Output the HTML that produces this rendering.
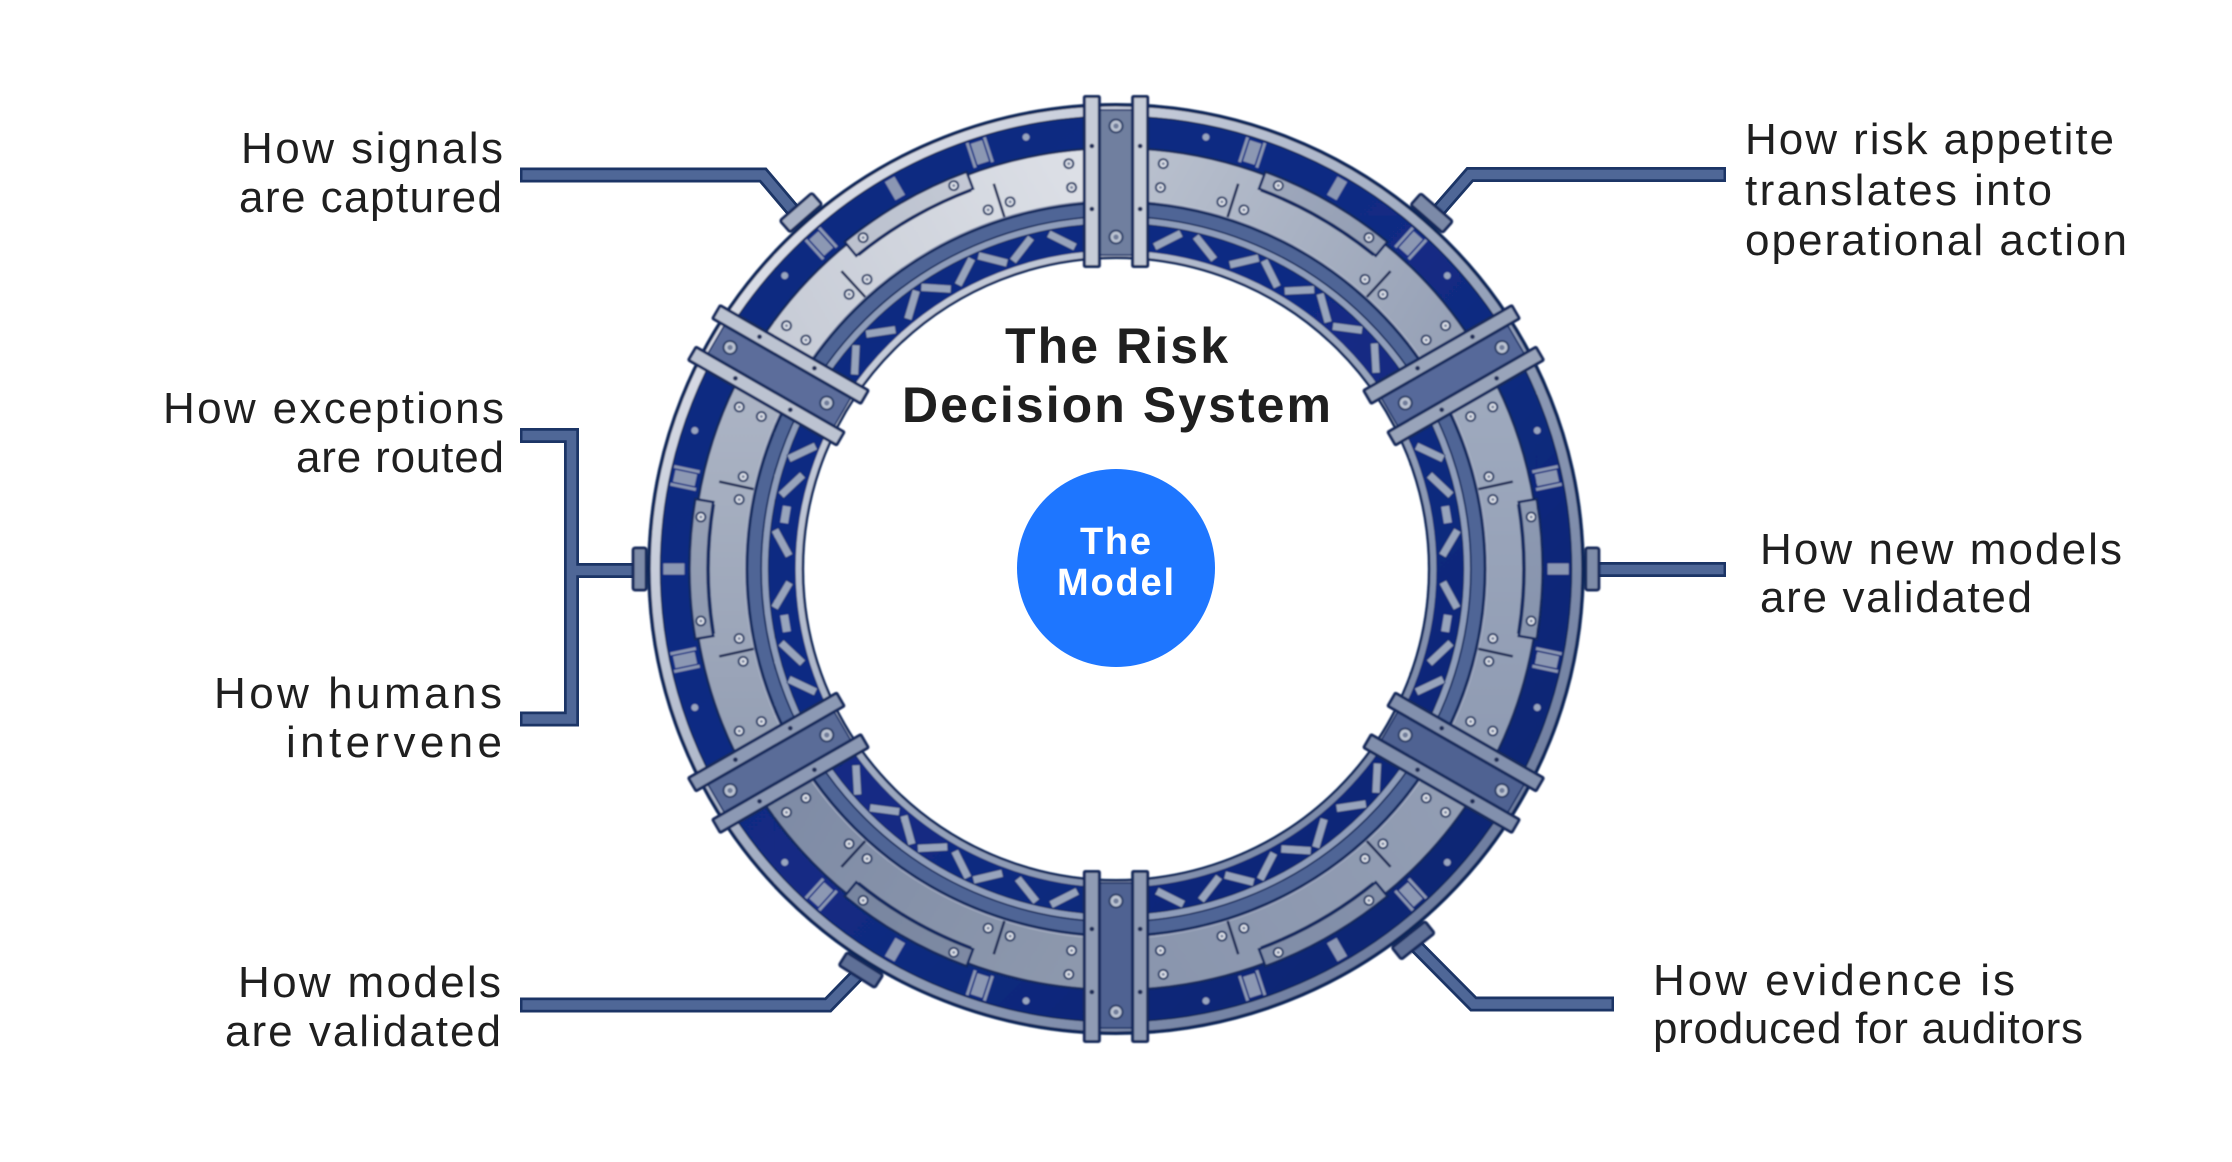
<!DOCTYPE html>
<html lang="en">
<head>
<meta charset="utf-8">
<title>The Risk Decision System</title>
<style>
html,body{margin:0;padding:0;background:#fff;width:2232px;height:1162px;overflow:hidden}
svg{display:block}
.l{font-family:"Liberation Sans",sans-serif;font-size:44px;fill:#1f1f1f}
.t{font-family:"Liberation Sans",sans-serif;font-size:50px;font-weight:700;fill:#1f1f1f}
.m{font-family:"Liberation Sans",sans-serif;font-size:38px;font-weight:700;fill:#fff}
</style>
</head>
<body>
<svg width="2232" height="1162" viewBox="0 0 2232 1162" xmlns="http://www.w3.org/2000/svg">
<defs>
<filter id="soft" x="-5%" y="-5%" width="110%" height="110%"><feGaussianBlur stdDeviation="0.7"/></filter>
<linearGradient id="rim" gradientUnits="userSpaceOnUse" x1="-330" y1="-330" x2="330" y2="330">
<stop offset="0" stop-color="#dadde6"/><stop offset=".5" stop-color="#9ca8bf"/><stop offset="1" stop-color="#6f7ea0"/>
</linearGradient>
<linearGradient id="blue" gradientUnits="userSpaceOnUse" x1="-400" y1="-400" x2="400" y2="400">
<stop offset="0" stop-color="#0f2a80"/><stop offset=".5" stop-color="#122b84"/><stop offset="1" stop-color="#0f2570"/>
</linearGradient>
<linearGradient id="g1" gradientUnits="userSpaceOnUse" x1="-210" y1="0" x2="210" y2="0"><stop offset="0" stop-color="#bcc3d0"/><stop offset="1" stop-color="#939eb4"/></linearGradient>
<linearGradient id="g2" gradientUnits="userSpaceOnUse" x1="-210" y1="0" x2="210" y2="0"><stop offset="0" stop-color="#a0abbf"/><stop offset="1" stop-color="#8e9ab2"/></linearGradient>
<linearGradient id="g3" gradientUnits="userSpaceOnUse" x1="-210" y1="0" x2="210" y2="0"><stop offset="0" stop-color="#939eb4"/><stop offset="1" stop-color="#8995ad"/></linearGradient>
<linearGradient id="g4" gradientUnits="userSpaceOnUse" x1="-210" y1="0" x2="210" y2="0"><stop offset="0" stop-color="#8f9aae"/><stop offset="1" stop-color="#7d8aa5"/></linearGradient>
<linearGradient id="g5" gradientUnits="userSpaceOnUse" x1="-210" y1="0" x2="210" y2="0"><stop offset="0" stop-color="#939eb3"/><stop offset="1" stop-color="#aeb6c6"/></linearGradient>
<linearGradient id="g6" gradientUnits="userSpaceOnUse" x1="-210" y1="0" x2="210" y2="0"><stop offset="0" stop-color="#c5cad5"/><stop offset="1" stop-color="#dfe2e8"/></linearGradient>
<g id="b"><circle r="4.500" fill="#e4e7ee" stroke="#2a3d66" stroke-width="2"/><circle r="1.600" fill="#7f8aa3"/></g>
<g id="bb"><circle r="6.500" fill="#bcc4d3" stroke="#2a3d66" stroke-width="2"/><circle r="2.600" fill="#6f7c99"/></g>
<g id="tr">
<rect x="-6" y="-11" width="12" height="22" fill="#8c98b3"/>
<rect x="-10.500" y="-13" width="3" height="26" fill="#8c98b3"/>
<rect x="7.500" y="-13" width="3" height="26" fill="#8c98b3"/>
</g>
<rect id="st" x="-15" y="-4" width="30" height="8" stroke="#18306e" stroke-width=".8"/>
<g id="ta" fill="#98a4bc">
<use href="#st" transform="rotate(20.7) translate(0,-333) rotate(36)"/>
<use href="#st" transform="rotate(13.7) translate(0,-333) rotate(-36)"/>
<use href="#st" transform="rotate(8.4) translate(0,-333) rotate(36)"/>
<use href="#st" transform="rotate(3.2) translate(0,-333) rotate(-36)"/>
<use href="#st" transform="rotate(-2.5) translate(0,-333) rotate(36)"/>
<use href="#st" transform="rotate(-7.5) translate(0,-333) rotate(-36)"/>
<use href="#st" transform="rotate(-14.6) translate(0,-333) rotate(36)"/>
<use href="#st" transform="rotate(-21.1) translate(0,-333) rotate(-36)"/>
</g>
<g id="tb" fill="#98a4bc">
<use href="#st" transform="rotate(-20.5) translate(0,-333) rotate(-44)"/>
<use href="#st" transform="rotate(-14.6) translate(0,-333) rotate(-32)"/>
<rect x="-8.500" y="-15" width="17" height="8" transform="rotate(-9.4) translate(0,-322)"/>
<use href="#st" transform="rotate(-4.500) translate(0,-333) rotate(35)"/>
<use href="#st" transform="rotate(4.500) translate(0,-333) rotate(-33)"/>
<rect x="-8.500" y="-15" width="17" height="8" transform="rotate(9.4) translate(0,-322)"/>
<use href="#st" transform="rotate(14.6) translate(0,-333) rotate(32)"/>
<use href="#st" transform="rotate(20.5) translate(0,-333) rotate(44)"/>
</g>
<g id="s">
<circle cx="-138.500" cy="-418.700" r="3.500" fill="#9aa6c0"/>
<circle cx="138.500" cy="-418.700" r="3.500" fill="#9aa6c0"/>
<rect x="-5.500" y="-450" width="11" height="21" fill="#8b97b3"/>
<use href="#tr" transform="translate(-91,-428.400) rotate(-12)"/>
<use href="#tr" transform="translate(91,-428.400) rotate(12)"/>
<path d="M-210.500 -364.600A421 421 0 0 1 -65.900 -415.800L-63.400 -400A405 405 0 0 1 63.400 -400L65.900 -415.800A421 421 0 0 1 210.500 -364.600L184 -318.700A368 368 0 0 0 -184 -318.700Z" stroke="#12295f" stroke-width="2.500"/>
<path d="M-183 -320.500A370.500 370.500 0 0 1 183 -320.500" fill="none" stroke="#eef0f5" stroke-opacity=".55" stroke-width="1.500"/>
<path d="M-70 -418.200A424 424 0 0 1 70 -418.200L67 -400.400A406 406 0 0 0 -67 -400.400Z" stroke="#12295f" stroke-width="2.500"/>
<path d="M-70 -418.200A424 424 0 0 1 70 -418.200L67 -400.400A406 406 0 0 0 -67 -400.400Z" fill="#1a2f60" fill-opacity=".1"/>
<path d="M-79.900 -360.300L-87.400 -394.400M79.900 -360.300L87.400 -394.400" stroke="#1a2a55" stroke-width="2.500" fill="none"/>
<use href="#b" x="-162" y="-374.500"/><use href="#b" x="162" y="-374.500"/>
<use href="#b" x="-152.500" y="-352.500"/><use href="#b" x="152.500" y="-352.500"/>
<use href="#b" x="-69.500" y="-374.600"/><use href="#b" x="69.500" y="-374.600"/>
<use href="#b" x="-92.400" y="-370.600"/><use href="#b" x="92.400" y="-370.600"/>
<use href="#b" x="-52" y="-412.700"/><use href="#b" x="52" y="-412.700"/>
</g>
<g id="c">
<rect x="-24" y="-459" width="48" height="145" stroke="#1a3166" stroke-width="1.500"/>
<rect x="-33" y="-474" width="18" height="173" rx="2.500" fill="#14295c"/>
<rect x="15" y="-474" width="18" height="173" rx="2.500" fill="#14295c"/>
<rect x="-30" y="-471" width="12" height="167" fill="currentColor"/>
<rect x="18" y="-471" width="12" height="167" fill="currentColor"/>
<circle cx="-24" cy="-423" r="2.300" fill="#1a2a55"/><circle cx="-24" cy="-360" r="2.300" fill="#1a2a55"/>
<circle cx="24" cy="-423" r="2.300" fill="#1a2a55"/><circle cx="24" cy="-360" r="2.300" fill="#1a2a55"/>
<use href="#bb" x="0" y="-443"/><use href="#bb" x="0" y="-332"/>
</g>
</defs>

<rect width="2232" height="1162" fill="#fff"/>

<g fill="none" stroke-linejoin="miter">
<g stroke="#1c3566" stroke-width="15">
<path d="M520 175L763 175L802 221"/>
<path d="M1726 174.500L1470 174.500L1432 218"/>
<path d="M520 435.500L571.500 435.500L571.500 719L520 719"/>
<path d="M571.500 570.500L636 570.500"/>
<path d="M1595 569.500L1726 569.500"/>
<path d="M520 1005L828 1005L866 966"/>
<path d="M1614 1004L1473.500 1004L1410 940"/>
</g>
<g stroke="#4f6797" stroke-width="9.500">
<path d="M522.500 175L763 175L802 221"/>
<path d="M1723.500 174.500L1470 174.500L1432 218"/>
<path d="M522.500 435.500L571.500 435.500L571.500 719L522.500 719"/>
<path d="M571.500 570.500L636 570.500"/>
<path d="M1595 569.500L1723.500 569.500"/>
<path d="M522.500 1005L828 1005L866 966"/>
<path d="M1611.500 1004L1473.500 1004L1410 940"/>
</g>
</g>

<g filter="url(#soft)">
<g transform="translate(1116,569) scale(1.006,1)">
<g stroke="#14295c" stroke-width="3">
<rect x="-21" y="-482" width="42" height="15" rx="2" fill="#a9b2c5" transform="rotate(-41.3)"/>
<rect x="-21" y="-482" width="42" height="15" rx="2" fill="#7c8aa8" transform="rotate(41.4)"/>
<rect x="-21" y="-480" width="42" height="13" rx="2" fill="#7f8da9" transform="rotate(90)"/>
<rect x="-21" y="-480" width="42" height="13" rx="2" fill="#7f8da9" transform="rotate(-90)"/>
<rect x="-21" y="-482" width="42" height="15" rx="2" fill="#5f7097" transform="rotate(-147.7)"/>
<rect x="-21" y="-482" width="42" height="15" rx="2" fill="#5f7097" transform="rotate(141.5)"/>
</g>
<g fill="none">
<circle r="388" stroke="#0d2558" stroke-width="156"/>
<circle r="458" stroke="url(#rim)" stroke-width="9"/>
<circle r="409.500" stroke="url(#blue)" stroke-width="85"/>
<circle r="359.500" stroke="#4f6596" stroke-width="12"/>
<circle r="349" stroke="#8f9dba" stroke-width="6"/>
<circle r="332" stroke="url(#blue)" stroke-width="26"/>
<circle r="315.500" stroke="url(#rim)" stroke-width="6"/>
</g>
<use href="#ta" transform="rotate(30)"/>
<use href="#tb" transform="rotate(90)"/>
<use href="#ta" transform="rotate(150)"/>
<use href="#ta" transform="rotate(210)"/>
<use href="#tb" transform="rotate(270)"/>
<use href="#ta" transform="rotate(330)"/>
<use href="#s" fill="url(#g1)" transform="rotate(30)"/>
<use href="#s" fill="url(#g2)" transform="rotate(90)"/>
<use href="#s" fill="url(#g3)" transform="rotate(150)"/>
<use href="#s" fill="url(#g4)" transform="rotate(210)"/>
<use href="#s" fill="url(#g5)" transform="rotate(270)"/>
<use href="#s" fill="url(#g6)" transform="rotate(330)"/>
<use href="#c" fill="#6f7f9f" color="#c6ccd7" transform="rotate(0)"/>
<use href="#c" fill="#56699a" color="#99a4ba" transform="rotate(60)"/>
<use href="#c" fill="#4f6292" color="#8290ad" transform="rotate(120)"/>
<use href="#c" fill="#4f6292" color="#8f9bb4" transform="rotate(180)"/>
<use href="#c" fill="#5a6c98" color="#8c99b4" transform="rotate(240)"/>
<use href="#c" fill="#5b6d9b" color="#bcc3d1" transform="rotate(300)"/>
</g>
</g>

<circle cx="1116" cy="568" r="99" fill="#1e76ff"/>
<text class="m" x="1080" y="554" textLength="71" lengthAdjust="spacing">The</text>
<text class="m" x="1057" y="595" textLength="117" lengthAdjust="spacing">Model</text>
<text class="t" x="1005" y="363" textLength="223" lengthAdjust="spacing">The Risk</text>
<text class="t" x="902" y="422" textLength="429" lengthAdjust="spacing">Decision System</text>

<text class="l" x="241" y="163" textLength="262" lengthAdjust="spacing">How signals</text>
<text class="l" x="239" y="212" textLength="263" lengthAdjust="spacing">are captured</text>
<text class="l" x="163" y="423" textLength="341" lengthAdjust="spacing">How exceptions</text>
<text class="l" x="296" y="472" textLength="208" lengthAdjust="spacing">are routed</text>
<text class="l" x="214" y="708" textLength="288" lengthAdjust="spacing">How humans</text>
<text class="l" x="286" y="757" textLength="216" lengthAdjust="spacing">intervene</text>
<text class="l" x="238" y="997" textLength="263" lengthAdjust="spacing">How models</text>
<text class="l" x="225" y="1046" textLength="276" lengthAdjust="spacing">are validated</text>
<text class="l" x="1745" y="154" textLength="369" lengthAdjust="spacing">How risk appetite</text>
<text class="l" x="1745" y="205" textLength="307" lengthAdjust="spacing">translates into</text>
<text class="l" x="1745" y="255" textLength="382" lengthAdjust="spacing">operational action</text>
<text class="l" x="1760" y="564" textLength="362" lengthAdjust="spacing">How new models</text>
<text class="l" x="1760" y="612" textLength="272" lengthAdjust="spacing">are validated</text>
<text class="l" x="1653" y="995" textLength="362" lengthAdjust="spacing">How evidence is</text>
<text class="l" x="1653" y="1043" textLength="430" lengthAdjust="spacing">produced for auditors</text>
</svg>
</body>
</html>
